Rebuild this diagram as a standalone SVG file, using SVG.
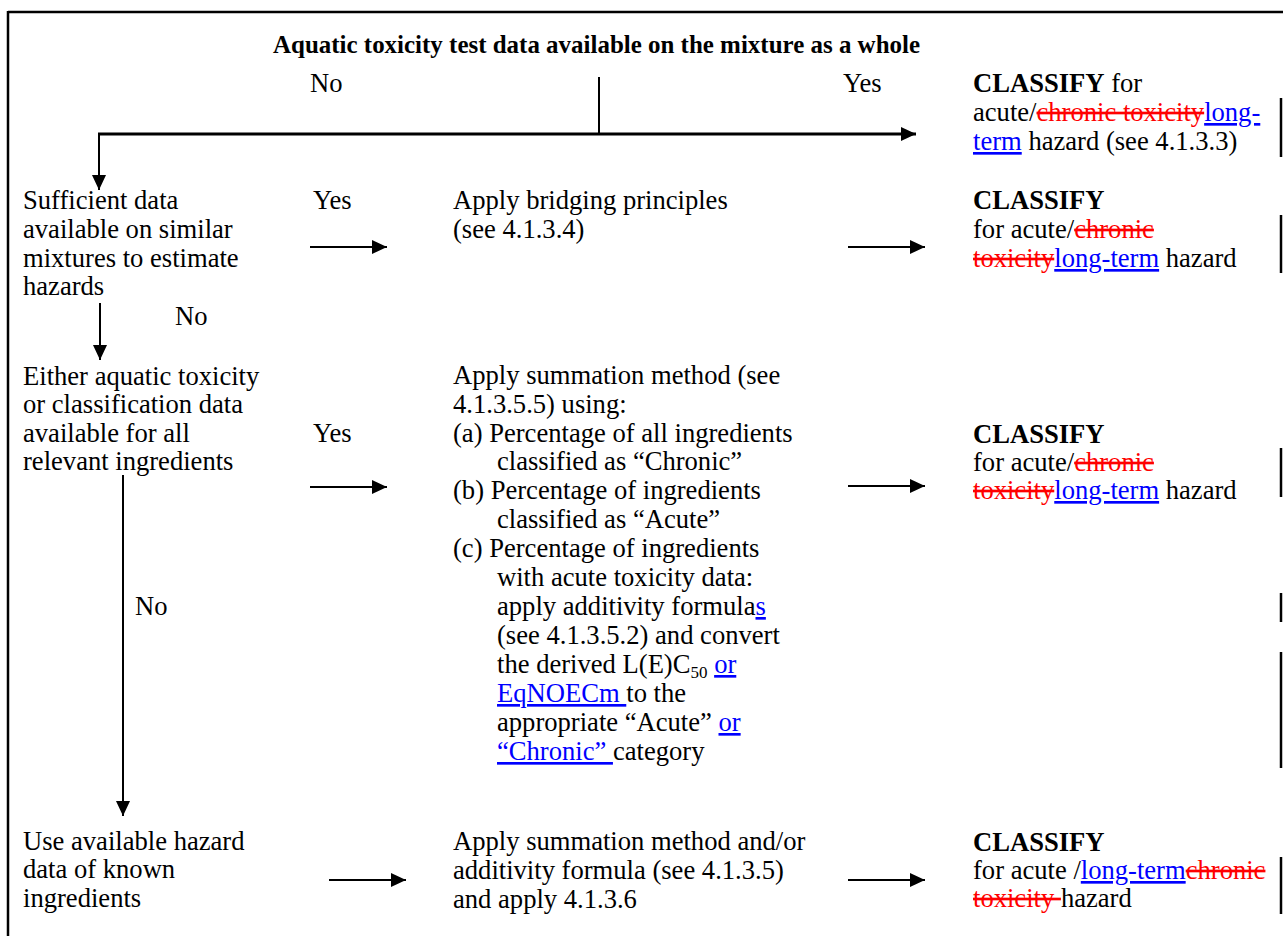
<svg xmlns="http://www.w3.org/2000/svg" width="1283" height="936" viewBox="0 0 1283 936">
<style>
text{font-family:"Liberation Serif","Times New Roman",serif;font-size:26.6px;fill:#000}
.b{font-weight:bold}
.del{fill:#FF0000;text-decoration:line-through}
.ins{fill:#0000FF;text-decoration:underline}
.ln{stroke:#000;stroke-width:2;fill:none}
.bar{stroke:#000;stroke-width:2.5}
</style>
<defs>
<marker id="ah" markerUnits="userSpaceOnUse" markerWidth="16" markerHeight="16" refX="15" refY="7" orient="auto">
<path d="M0,0 L15,7 L0,14 z" fill="#000"/>
</marker>
</defs>
<rect width="1283" height="936" fill="#fff"/>
<g id="frame">
<line x1="8" y1="12" x2="1283" y2="12" stroke="#000" stroke-width="2.5"/>
<line x1="8" y1="11" x2="8" y2="936" stroke="#000" stroke-width="2.5"/>
</g>
<g id="change-bars">
<line class="bar" x1="1281" y1="98" x2="1281" y2="157"/>
<line class="bar" x1="1281" y1="215" x2="1281" y2="273"/>
<line class="bar" x1="1281" y1="448" x2="1281" y2="497"/>
<line class="bar" x1="1281" y1="593" x2="1281" y2="622"/>
<line class="bar" x1="1281" y1="652" x2="1281" y2="768"/>
<line class="bar" x1="1281" y1="857" x2="1281" y2="914"/>
</g>
<g id="n-title"><text x="273" y="53" class="b" style="font-size:25px" textLength="647" lengthAdjust="spacingAndGlyphs">Aquatic toxicity test data available on the mixture as a whole</text></g>
<g id="n-classify1">
<text x="973" y="92"><tspan class="b">CLASSIFY</tspan> for</text>
<text x="973" y="121">acute/<tspan class="del">chronic toxicity</tspan><tspan class="ins">long-</tspan></text>
<text x="973" y="150"><tspan class="ins">term</tspan> hazard (see 4.1.3.3)</text>
</g>
<g id="n-similar">
<text x="23" y="209">Sufficient data</text>
<text x="23" y="238">available on similar</text>
<text x="23" y="267">mixtures to estimate</text>
<text x="23" y="295">hazards</text>
</g>
<g id="n-bridging">
<text x="453" y="209">Apply bridging principles</text>
<text x="453" y="238">(see 4.1.3.4)</text>
</g>
<g id="n-classify2">
<text x="973" y="209" class="b">CLASSIFY</text>
<text x="973" y="238">for acute/<tspan class="del">chronic</tspan></text>
<text x="973" y="267"><tspan class="del">toxicity</tspan><tspan class="ins">long-term</tspan> hazard</text>
</g>
<g id="n-either">
<text x="23" y="385">Either aquatic toxicity</text>
<text x="23" y="413">or classification data</text>
<text x="23" y="442">available for all</text>
<text x="23" y="470">relevant ingredients</text>
</g>
<g id="n-summation">
<text x="453" y="384">Apply summation method (see</text>
<text x="453" y="413">4.1.3.5.5) using:</text>
<text x="453" y="442">(a) Percentage of all ingredients</text>
<text x="497" y="470">classified as “Chronic”</text>
<text x="453" y="499">(b) Percentage of ingredients</text>
<text x="497" y="528">classified as “Acute”</text>
<text x="453" y="557">(c) Percentage of ingredients</text>
<text x="497" y="586">with acute toxicity data:</text>
<text x="497" y="615">apply additivity formula<tspan class="ins">s</tspan></text>
<text x="497" y="644">(see 4.1.3.5.2) and convert</text>
<text x="497" y="673">the derived L(E)C<tspan font-size="17" dy="5">50</tspan><tspan dy="-5"> </tspan><tspan class="ins">or</tspan></text>
<text x="497" y="702"><tspan class="ins">EqNOECm </tspan>to the</text>
<text x="497" y="731">appropriate “Acute” <tspan class="ins">or</tspan></text>
<text x="497" y="760"><tspan class="ins">“Chronic” </tspan>category</text>
</g>
<g id="n-classify3">
<text x="973" y="443" class="b">CLASSIFY</text>
<text x="973" y="471">for acute/<tspan class="del">chronic</tspan></text>
<text x="973" y="499"><tspan class="del">toxicity</tspan><tspan class="ins">long-term</tspan> hazard</text>
</g>
<g id="n-known">
<text x="23" y="850">Use available hazard</text>
<text x="23" y="878">data of known</text>
<text x="23" y="907">ingredients</text>
</g>
<g id="n-additivity">
<text x="453" y="850">Apply summation method and/or</text>
<text x="453" y="879">additivity formula (see 4.1.3.5)</text>
<text x="453" y="908">and apply 4.1.3.6</text>
</g>
<g id="n-classify4">
<text x="973" y="851" class="b">CLASSIFY</text>
<text x="973" y="879">for acute /<tspan class="ins">long-term</tspan><tspan class="del">chronic</tspan></text>
<text x="973" y="907"><tspan class="del">toxicity </tspan>hazard</text>
</g>
<g id="labels">
<text x="310" y="92">No</text>
<text x="843" y="92">Yes</text>
<text x="313" y="209">Yes</text>
<text x="175" y="325">No</text>
<text x="313" y="442">Yes</text>
<text x="135" y="615">No</text>
</g>
<g id="connectors">
<line class="ln" x1="599" y1="77" x2="599" y2="134"/>
<line x1="98" y1="134" x2="916" y2="134" stroke="#000" stroke-width="3" marker-end="url(#ah)"/>
<line class="ln" x1="99" y1="133" x2="99" y2="190" marker-end="url(#ah)"/>
<line class="ln" x1="310" y1="247" x2="387" y2="247" marker-end="url(#ah)"/>
<line class="ln" x1="848" y1="247" x2="925" y2="247" marker-end="url(#ah)"/>
<line class="ln" x1="100" y1="303" x2="100" y2="360" marker-end="url(#ah)"/>
<line class="ln" x1="310" y1="487" x2="387" y2="487" marker-end="url(#ah)"/>
<line class="ln" x1="848" y1="486" x2="925" y2="486" marker-end="url(#ah)"/>
<line class="ln" x1="123" y1="475" x2="123" y2="816" marker-end="url(#ah)"/>
<line class="ln" x1="329" y1="880" x2="406" y2="880" marker-end="url(#ah)"/>
<line class="ln" x1="848" y1="880" x2="925" y2="880" marker-end="url(#ah)"/>
</g>
</svg>
